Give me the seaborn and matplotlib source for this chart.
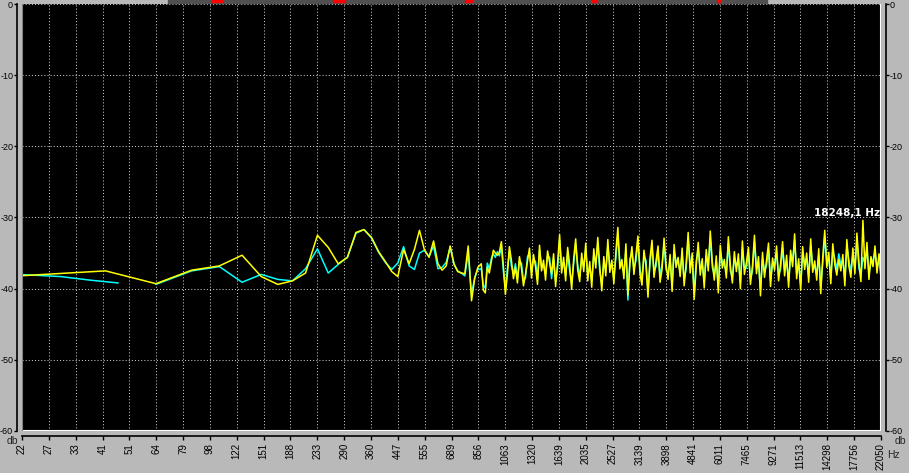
import numpy as np
import pandas as pd
import matplotlib
matplotlib.use('Agg')
import matplotlib.pyplot as plt
import matplotlib.transforms as mtransforms
from matplotlib.patches import Rectangle
from matplotlib.ticker import NullLocator
import seaborn as sns

# ============================
# Data
# ============================
bin_hz = 21.533  # FFT bin width
low_bins = np.arange(1, 41)

yellow_low = [-38.2, -37.5, -39.3, -37.4, -36.8, -35.3, -38.3, -39.4, -38.9, -37.8,
              -32.5, -34.2, -36.5, -35.6, -32.1, -31.7, -32.8, -34.8, -36.2, -37.6,
              -38.3, -34.5, -36.5, -34.5, -31.8, -34.5, -35.6, -33.3, -36.5, -37.4,
              -36.8, -34.0, -36.5, -37.6, -37.8, -37.9, -34.0, -41.7, -38.5, -37.0]

# cyan: first short piece, then from bin 3 on
cyan_start_hz = [21.5, 30.0, 38.0, 47.7]
cyan_start_db = [-38.0, -38.3, -38.8, -39.2]
cyan_low = [-39.4, -37.5, -36.9, -39.1, -38.0, -38.7, -38.9, -37.2,
            -34.4, -37.8, -36.6, -35.6, -32.2, -31.7, -32.9, -34.9, -36.3, -37.3,
            -36.4, -34.1, -36.8, -37.3, -35.0, -34.6, -35.5, -34.0, -37.2, -37.0,
            -36.3, -34.2, -36.6, -37.5, -37.8, -38.2, -35.0, -40.8, -38.4, -37.3]

yellow_high = [
    -36.5, -40.2, -40.6, -37.0, -37.8, -36.2, -34.6, -35.0, -35.3, -34.9, -33.4, -36.8, -40.8,
    -38.0, -34.1, -36.0, -38.6, -37.0, -39.2, -35.5, -37.1, -39.6, -38.0, -36.1, -34.3,
    -38.5, -35.2, -36.9, -39.4, -33.9, -37.5, -36.0, -38.8, -34.7, -36.3, -37.9, -35.1, -39.7,
    -36.4, -32.4, -37.8, -35.6, -38.9, -34.2, -36.7, -40.1, -35.8, -33.0, -37.4, -39.0,
    -35.0, -37.6, -33.6, -38.9, -36.2, -39.8, -34.4, -37.1, -32.8, -36.9, -40.3, -35.5, -38.2,
    -33.1, -37.7, -36.0, -39.3, -34.8, -31.4, -37.2, -35.9, -38.6, -33.7, -40.9, -36.5, -34.1,
    -38.0, -35.3, -32.6, -37.9, -39.5, -34.6, -36.8, -41.2, -35.7, -33.2, -38.4, -36.1, -34.0,
    -39.1, -37.3, -32.9, -36.6, -38.7, -35.2, -40.4, -33.8, -37.0, -35.6, -38.3,
    -34.3, -39.6, -36.4, -32.1, -37.8, -35.0, -41.5, -36.9, -33.5, -38.1, -35.8, -39.9, -34.5,
    -37.5, -31.9, -36.2, -38.8, -35.4, -40.6, -33.9, -37.1, -35.9, -38.5, -32.7, -36.7, -39.2,
    -34.8, -37.6, -35.1, -40.0, -33.3, -38.0, -36.3, -34.2, -39.4, -36.8, -32.5, -37.9, -35.5,
    -41.0, -34.9, -38.4, -36.0, -33.6, -39.7, -35.7, -37.4, -34.0, -38.9, -36.5,
    -33.4, -38.2, -35.3, -39.8, -34.6, -36.9, -32.3, -38.6, -35.8, -40.2, -34.1, -37.3, -35.0,
    -39.1, -33.0, -37.7, -36.1, -38.8, -34.4, -40.7, -35.6, -31.8, -37.0, -34.9, -39.3, -33.7,
    -36.6, -38.1, -35.9, -37.5, -35.2, -39.6, -33.1, -36.8, -38.4, -34.3, -37.9, -32.2, -36.3,
    -39.0, -30.4, -37.2, -33.5, -38.7, -35.5, -36.9, -34.0, -37.8, -35.1, -37.0]

cyan_high = [
    -37.2, -39.5, -39.9, -36.4, -37.2, -35.8, -35.1, -35.6, -34.8, -35.4, -34.0, -37.5, -40.0,
    -37.2, -34.8, -36.8, -37.9, -36.5, -38.6, -36.2, -36.4, -38.9, -38.5, -35.5, -35.0,
    -37.6, -35.9, -36.2, -38.7, -34.6, -36.8, -36.9, -37.9, -35.4, -35.6, -38.6, -35.9, -38.9,
    -37.1, -33.2, -36.9, -36.3, -38.1, -35.0, -37.5, -39.2, -36.5, -33.8, -36.6, -38.3,
    -35.8, -36.9, -34.5, -38.0, -37.0, -38.9, -35.3, -36.4, -33.7, -37.6, -39.4, -36.3, -37.4,
    -34.0, -36.9, -36.8, -38.5, -35.7, -32.5, -36.4, -36.7, -37.8, -34.6, -41.6, -35.8, -35.0,
    -37.2, -36.1, -33.5, -37.1, -38.7, -35.5, -36.0, -40.3, -36.5, -34.1, -37.6, -36.9, -34.9,
    -38.3, -36.5, -33.8, -37.4, -37.9, -36.0, -39.6, -34.7, -36.2, -36.4, -37.5,
    -35.2, -38.8, -37.2, -33.0, -37.0, -35.8, -40.6, -36.1, -34.4, -37.3, -36.6, -39.0, -35.4,
    -36.7, -32.9, -37.0, -38.0, -36.2, -39.8, -34.8, -36.3, -36.7, -37.7, -33.6, -37.5, -38.4,
    -35.7, -36.8, -35.9, -39.2, -34.2, -37.2, -37.1, -35.1, -38.6, -37.6, -33.4, -37.1, -36.3,
    -40.2, -35.8, -37.6, -36.8, -34.5, -38.9, -36.5, -36.6, -34.9, -38.1, -37.3,
    -34.3, -37.4, -36.1, -39.0, -35.5, -36.1, -33.2, -37.8, -36.6, -39.4, -35.0, -36.5, -35.8,
    -38.3, -33.9, -36.9, -36.9, -38.0, -35.3, -39.9, -36.4, -32.7, -36.2, -35.8, -38.5, -34.6,
    -35.8, -37.3, -35.1, -36.7, -36.0, -38.8, -34.0, -36.0, -37.6, -35.2, -37.1, -33.1, -37.1,
    -38.2, -35.6, -36.4, -34.4, -37.9, -36.4, -36.1, -34.9, -37.0, -36.0, -38.4]

xtick_labels = ['22', '27', '33', '41', '51', '64', '79', '98', '122', '151', '188',
                '233', '290', '360', '447', '555', '689', '856', '1063', '1320', '1639',
                '2035', '2527', '3139', '3898', '4841', '6011', '7465', '9271', '11513',
                '14298', '17756', '22050']
ytick_values = [0, -10, -20, -30, -40, -50, -60]

# ============================
# Build frames
# ============================
low_hz = low_bins * bin_hz
yellow_df = pd.DataFrame({
    'hz': np.concatenate([low_hz, np.geomspace(885, 22050, len(yellow_high))]),
    'db': yellow_low + yellow_high,
})
cyan_df = pd.concat([
    pd.DataFrame({'hz': cyan_start_hz, 'db': cyan_start_db, 'seg': 0}),
    pd.DataFrame({'hz': np.concatenate([low_hz[2:], np.geomspace(885, 22050, len(cyan_high))]),
                  'db': cyan_low + cyan_high, 'seg': 1}),
], ignore_index=True)

# ============================
# Plot
# ============================
sns.set_style('ticks')
plt.rcParams['font.family'] = ['Liberation Sans', 'DejaVu Sans']

bg = '#b9b9b9'
fig = plt.figure(figsize=(9.09, 4.73), dpi=100, facecolor=bg)
ax = fig.add_axes([22 / 909, 1 - 431 / 473, (881 - 22) / 909, (431 - 4) / 473])
ax.set_facecolor('black')

sns.lineplot(data=cyan_df, x='hz', y='db', units='seg', estimator=None, sort=False,
             color='#00ffff', linewidth=1.1, ax=ax)
sns.lineplot(data=yellow_df, x='hz', y='db', estimator=None, sort=False,
             color='#ffff00', linewidth=1.1, ax=ax)

ax.set_xscale('log')
ax.set_xlim(22, 22050)
ax.set_ylim(-60, 0)
ax.set_xticks(np.geomspace(22, 22050, len(xtick_labels)))
ax.set_xticklabels(xtick_labels)
ax.xaxis.set_minor_locator(NullLocator())
ax.set_yticks(ytick_values)
ax.set_yticklabels([str(v) for v in ytick_values])
ax.set_xlabel('')
ax.set_ylabel('')

ax.grid(True, color='#c8c8c8', linestyle=(0, (1, 2)), linewidth=0.75)
ax.tick_params(axis='y', left=True, right=True, labelleft=True, labelright=True,
               length=2.2, width=1, pad=0.6, colors='black', labelsize=6.5)
ax.tick_params(axis='x', length=3, width=1, pad=2, colors='black', labelrotation=90,
               labelsize=7)

for side in ['left', 'right', 'bottom']:
    ax.spines[side].set_position(('outward', 3.6))
    ax.spines[side].set_color('black')
    ax.spines[side].set_linewidth(1.2)
ax.spines['top'].set_visible(False)

# white frame on bottom and right of the plot area
ax.axhline(-60, color='white', linewidth=1.5, zorder=5)
ax.axvline(22050, color='white', linewidth=1.5, zorder=5)
ax.axvline(22, color='#808080', linewidth=1.5, zorder=5)

trans = mtransforms.blended_transform_factory(ax.transAxes, ax.transData)
ax.text(0.999, -29.4, '18248,1 Hz', transform=trans, ha='right', va='center',
        color='white', fontweight='bold', fontsize=7.5, zorder=6,
        family=['DejaVu Sans'])

fig.text(12 / 909, 1 - 441 / 473, 'db', fontsize=7.5, ha='center', va='center')
fig.text(900 / 909, 1 - 441 / 473, 'db', fontsize=7.5, ha='center', va='center')
fig.text(887 / 909, 1 - 455 / 473, 'Hz', fontsize=7.5, ha='left', va='center')

# window chrome at the top edge
fig.patches.append(Rectangle((168 / 909, 1 - 3 / 473), (767 - 168) / 909, 3 / 473,
                             transform=fig.transFigure, color='#505050', zorder=0))
for x0, w in [(212, 10), (333, 12), (465, 7), (592, 5), (717, 3)]:
    fig.patches.append(Rectangle((x0 / 909, 1 - 2 / 473), w / 909, 2 / 473,
                                 transform=fig.transFigure, color='#ff0000', zorder=1))

fig.savefig('out.png', dpi=100, facecolor=bg)
